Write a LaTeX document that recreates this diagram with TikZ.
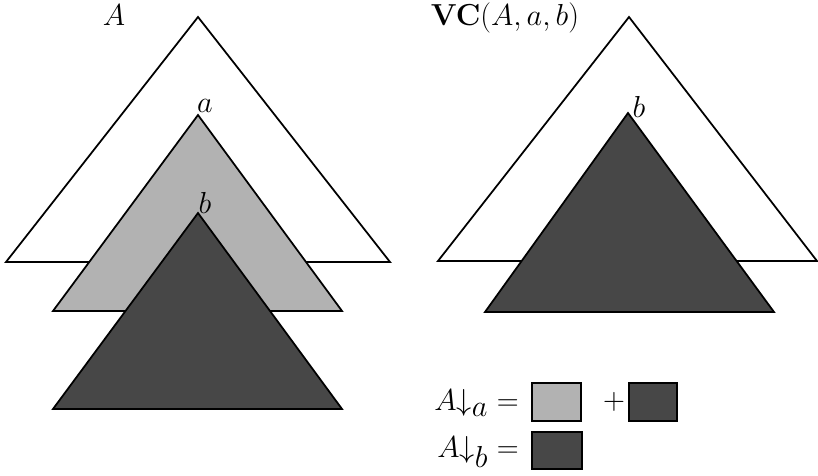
\documentclass[tikz,border=0pt]{standalone}
\usepackage{amsmath}
\begin{document}
\begin{tikzpicture}[
    x = 0.02cm,
    y = -0.02cm,
    arbol/.style = {
        draw       = black,
        line width = 1pt,
        line join  = miter
    },
    claro/.style  = {fill = black!30},
    oscuro/.style = {fill = black!72},
    etiq/.style = {
        font       = \fontsize{16}{19}\selectfont,
        inner sep  = 0pt
    }
]

\useasboundingbox (0,0) rectangle (818,476);

% ================================================================
%  ARBOL A (izquierda)
%  raiz, subarbol en a, subarbol en b
% ================================================================

\draw[arbol, fill=white] (198, 17)  -- (6, 262)  -- (390, 262) -- cycle;
\draw[arbol, claro]      (198, 115) -- (53, 311) -- (342, 311) -- cycle;
\draw[arbol, oscuro]     (198, 213) -- (53, 409) -- (342, 409) -- cycle;

\node[etiq] (nA)  at (114, 15)  {$A$};
\node[etiq] (na)  at (205, 106) {$a$};
\node[etiq] (nb)  at (205, 203) {$b$};

% ================================================================
%  VC(A,a,b) (derecha)
% ================================================================

\draw[arbol, fill=white] (629, 17)  -- (438, 261) -- (817, 261) -- cycle;
\draw[arbol, oscuro]     (628, 113) -- (485, 312) -- (774, 312) -- cycle;

\node[etiq] (nVC) at (505, 18)  {$\mathbf{VC}(A,a,b)$};
\node[etiq] (nb2) at (639, 107) {$b$};

% ================================================================
%  LEYENDA
% ================================================================

\node[etiq, anchor=base east] (lega) at (519, 410)
    {$A{\downarrow}_{\textstyle a} =$};
\node[etiq, anchor=base east] (legb) at (519, 457)
    {$A{\downarrow}_{\textstyle b} =$};

\draw[arbol, claro]  (532, 383) rectangle (581, 421);
\node[etiq] (mas) at (614, 402) {$+$};
\draw[arbol, oscuro] (629, 383) rectangle (677, 421);

\draw[arbol, oscuro] (532, 432) rectangle (582, 469);

\end{tikzpicture}
\end{document}
